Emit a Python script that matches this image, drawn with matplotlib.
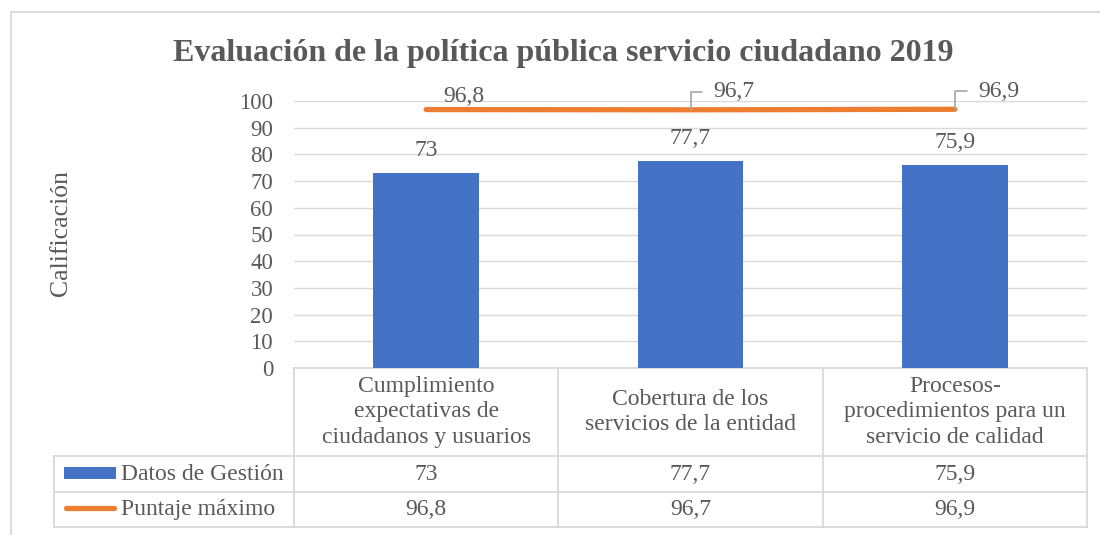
import matplotlib
matplotlib.use("Agg")
import matplotlib.pyplot as plt
from matplotlib.transforms import blended_transform_factory

plt.rcParams['font.family'] = ['Liberation Serif', 'DejaVu Serif']

title = "Evaluación de la política pública servicio ciudadano 2019"
categories = ["Cumplimiento\nexpectativas de\nciudadanos y usuarios",
              "Cobertura de los\nservicios de la entidad",
              "Procesos-\nprocedimientos para un\nservicio de calidad"]
gestion = [73, 77.7, 75.9]
maximo = [96.8, 96.7, 96.9]
series_names = ["Datos de Gestión", "Puntaje máximo"]
y_ticks = [0, 10, 20, 30, 40, 50, 60, 70, 80, 90, 100]
y_label = "Calificación"

BLUE = "#4472C4"
ORANGE = "#ED7D31"
GRID = "#D9D9D9"
TXT = "#595959"
LEADER = "#A6A6A6"
FS = 17

def fmt(v):
    s = f"{v:g}"
    return s.replace(".", ",")

W, H = 1100, 535
fig = plt.figure(figsize=(W / 100, H / 100), dpi=100)

# overlay axes in pixel coordinates (for frame / table rows)
ov = fig.add_axes([0, 0, 1, 1], zorder=0)
ov.set_xlim(0, W)
ov.set_ylim(H, 0)
ov.axis("off")

ax_left, ax_right, ax_top, ax_bottom = 294, 1087, 101, 368
ax = fig.add_axes([ax_left / W, (H - ax_bottom) / H,
                   (ax_right - ax_left) / W, (ax_bottom - ax_top) / H], zorder=1)
ax.patch.set_alpha(0)
n = len(categories)
x = list(range(n))
ax.set_xlim(-0.5, n - 0.5)
ax.set_ylim(0, 100)
ax.set_yticks(y_ticks)
ax.set_yticklabels([str(t) for t in y_ticks])
ax.set_xticks([])
for s in ax.spines.values():
    s.set_visible(False)
ax.tick_params(axis="y", length=0, pad=15, labelsize=16.5, labelcolor=TXT)
for t in y_ticks[1:]:
    ax.axhline(t, color=GRID, lw=1.0, zorder=0)

# bars
ax.bar(x, gestion, width=0.40, color=BLUE, zorder=2)
for xi, v in zip(x, gestion):
    ax.annotate(fmt(v), xy=(xi, v), xytext=(0, 17), textcoords="offset pixels",
                ha="center", va="baseline", fontsize=FS, color=TXT)

# line
ax.plot(x, maximo, color=ORANGE, lw=3.8, solid_capstyle="round", zorder=3)
for i, (xi, v) in enumerate(zip(x, maximo)):
    if i == 0:
        ax.annotate(fmt(v), xy=(xi, v), xytext=(17, 8), textcoords="offset pixels",
                    ha="left", va="baseline", fontsize=FS, color=TXT)
    else:
        ax.annotate(fmt(v), xy=(xi, v), xytext=(23, 18), textcoords="offset pixels",
                    ha="left", va="center", fontsize=FS, color=TXT,
                    arrowprops=dict(arrowstyle="-", color=LEADER, lw=1.2,
                                    connectionstyle="angle,angleA=0,angleB=90,rad=0",
                                    relpos=(0, 0.5), shrinkA=6, shrinkB=0))

# data table
bt = blended_transform_factory(ax.transData, ov.transData)
leg_left = -0.5 - (ax_left - 54) / ((ax_right - ax_left) / n)
row_y = [ax_bottom, 456, 492, 527]
tkw = dict(color=GRID, lw=1.3, transform=bt, clip_on=False, zorder=1)
ov.plot([-0.5, n - 0.5], [row_y[0], row_y[0]], **tkw)
for yy in row_y[1:]:
    ov.plot([leg_left, n - 0.5], [yy, yy], **tkw)
for b in [i - 0.5 for i in range(n + 1)]:
    ov.plot([b, b], [row_y[0], row_y[-1]], **tkw)
ov.plot([leg_left, leg_left], [row_y[1], row_y[-1]], **tkw)

for xi, c in zip(x, categories):
    ov.text(xi, (row_y[0] + row_y[1]) / 2, c, transform=bt, ha="center", va="center",
            fontsize=FS, color=TXT, linespacing=1.27)
for r, vals in enumerate([gestion, maximo]):
    yc = (row_y[r + 1] + row_y[r + 2]) / 2
    for xi, v in zip(x, vals):
        ov.text(xi, yc, fmt(v), transform=bt, ha="center", va="center",
                fontsize=FS, color=TXT)

# legend keys in row headers
ov.add_patch(plt.Rectangle((64, 467), 52, 12, color=BLUE, lw=0))
ov.plot([66, 114], [508, 508], color=ORANGE, lw=3.8, solid_capstyle="round")
ov.text(121, (row_y[1] + row_y[2]) / 2, series_names[0], ha="left", va="center",
        fontsize=FS, color=TXT)
ov.text(121, (row_y[2] + row_y[3]) / 2, series_names[1], ha="left", va="center",
        fontsize=FS, color=TXT)

# chart frame
ov.plot([11, 11], [12, H + 5], color=GRID, lw=1.3, clip_on=False)
ov.plot([11, W + 5], [12, 12], color=GRID, lw=1.3, clip_on=False)

# titles
fig.text(563 / W, (H - 53) / H, title, ha="center", va="center", fontsize=23,
         fontweight="bold", color=TXT)
fig.text(61 / W, (H - 233) / H, y_label, rotation=90, ha="center", va="center",
         fontsize=18.5, color=TXT)

fig.savefig("out.png", dpi=100)
